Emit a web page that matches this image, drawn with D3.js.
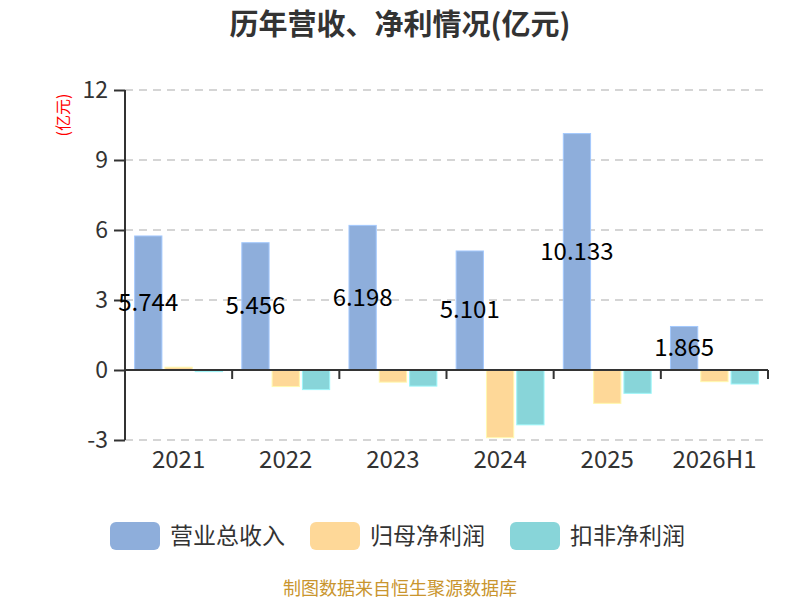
<!DOCTYPE html>
<html><head><meta charset="utf-8">
<script src="https://cdn.jsdelivr.net/npm/d3@7/dist/d3.min.js"></script>
<style>body{margin:0;background:#fff}svg{display:block}text{font-family:"Noto Sans CJK SC","Noto Sans",sans-serif}</style>
</head><body><svg id="c" width="800" height="600"></svg>
<script>
const categories = ["2021","2022","2023","2024","2025","2026H1"];
const seriesNames = ["营业总收入","归母净利润","扣非净利润"];
const revenue = [5.744,5.456,6.198,5.101,10.133,1.865];
const netProfit = [0.12,-0.71,-0.52,-2.9,-1.43,-0.5];
const deductedProfit = [-0.07,-0.84,-0.69,-2.35,-1.0,-0.6];
const yTicks = [-3,0,3,6,9,12];
const colors = ["#8eaedb","#fed898","#88d5d9"];

const svg = d3.select("#c");
const x = d3.scaleBand().domain(categories).range([125,768]);
const y = d3.scaleLinear().domain([-3,12]).range([440,90]);
const inner = d3.scaleBand().domain([0,1,2]).range([x.bandwidth()*0.09, x.bandwidth()*0.91]).paddingInner(0.1);

// grid
svg.append("g").selectAll("line").data(yTicks.filter(d=>d!==0)).join("line")
  .attr("x1",125).attr("x2",768).attr("y1",d=>y(d)).attr("y2",d=>y(d))
  .attr("stroke","#c8c8c8").attr("stroke-width",1.5).attr("stroke-dasharray","8,6");

// title
svg.append("text").attr("x",400).attr("y",35).attr("text-anchor","middle")
  .attr("font-size",29).attr("font-weight","bold").attr("fill","#333").text("历年营收、净利情况(亿元)");

// y label
svg.append("text").attr("transform","translate(69,115) rotate(-90)").attr("text-anchor","middle")
  .attr("font-size",16).attr("fill","#ff0000").text("(亿元)");

// bars
const data = [revenue, netProfit, deductedProfit];
data.forEach((vals,si)=>{
  svg.append("g").selectAll("rect").data(vals).join("rect")
    .attr("x",(d,i)=>x(categories[i])+inner(si))
    .attr("width",inner.bandwidth())
    .attr("y",d=>y(Math.max(0,d)))
    .attr("height",d=>Math.abs(y(d)-y(0)))
    .attr("fill",colors[si]).attr("stroke",d3.color(colors[si]).brighter(0.4)).attr("stroke-width",1);
});

// y axis
const ya = svg.append("g").attr("transform","translate(125,0)")
  .call(d3.axisLeft(y).tickValues(yTicks).tickFormat(d=>String(d)).tickSize(11).tickPadding(6));
ya.select(".domain").attr("stroke","#333").attr("stroke-width",2).attr("d","M0,90V440");
ya.selectAll(".tick line").attr("stroke","#333").attr("stroke-width",2);
ya.selectAll("text").attr("font-size",23).attr("fill","#333").style("font-family",'"Noto Sans CJK SC",sans-serif');

// x axis at zero
const xa = svg.append("g").attr("transform",`translate(0,${y(0)})`)
  .call(d3.axisBottom(x).tickSize(0).tickPadding(81));
xa.select(".domain").attr("stroke","#333").attr("stroke-width",2).attr("d","M125,0H768");
xa.selectAll("text").attr("font-size",24).attr("fill","#333").style("font-family",'"Noto Sans CJK SC",sans-serif');
svg.append("g").selectAll("line").data(categories.slice(1).concat(["end"])).join("line")
  .attr("x1",(d,i)=>125+x.step()*(i+1)).attr("x2",(d,i)=>125+x.step()*(i+1))
  .attr("y1",y(0)).attr("y2",y(0)+9).attr("stroke","#333").attr("stroke-width",2);

// value labels
svg.append("g").selectAll("text").data(revenue).join("text")
  .attr("x",(d,i)=>x(categories[i])+inner(0)+inner.bandwidth()/2)
  .attr("y",d=>y(d/2)+8).attr("text-anchor","middle")
  .attr("font-size",24).attr("fill","#000").text(d=>d.toFixed(3));

// legend
const lg = svg.append("g");
const lx = [110,310,510];
seriesNames.forEach((n,i)=>{
  lg.append("rect").attr("x",lx[i]).attr("y",522).attr("width",50).attr("height",28).attr("rx",6).attr("fill",colors[i]);
  lg.append("text").attr("x",lx[i]+60).attr("y",544).attr("font-size",23).attr("fill","#333").text(n);
});

svg.append("text").attr("x",400).attr("y",595).attr("text-anchor","middle")
  .attr("font-size",18).attr("fill","#c9952e").text("制图数据来自恒生聚源数据库");
</script></body></html>
